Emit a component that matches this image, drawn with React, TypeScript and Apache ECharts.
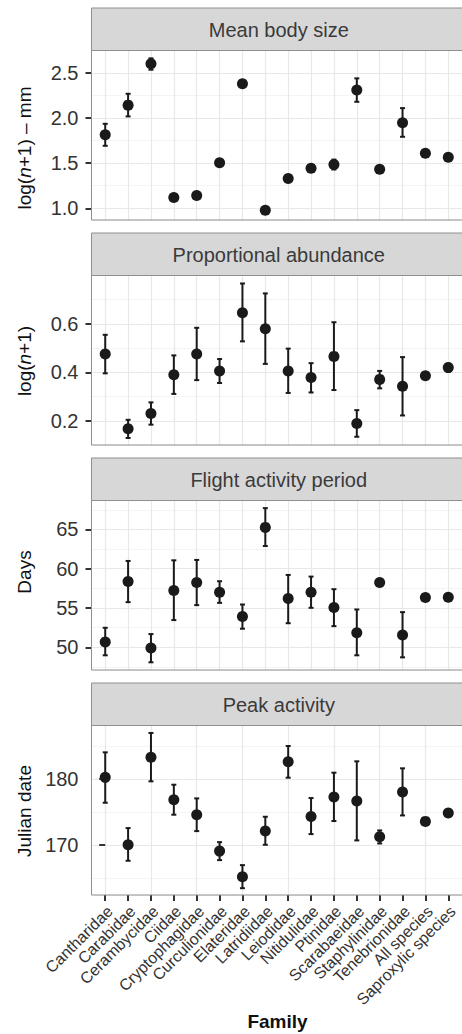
import React, { useEffect, useRef } from "react";
import * as echarts from "echarts";

// ---------- data ----------
const families = [
  "Cantharidae", "Carabidae", "Cerambycidae", "Ciidae", "Cryptophagidae",
  "Curculionidae", "Elateridae", "Latridiidae", "Leiodidae", "Nitidulidae",
  "Ptinidae", "Scarabaeidae", "Staphylinidae", "Tenebrionidae",
  "All species", "Saproxylic species",
];

const panelTitles = ["Mean body size", "Proportional abundance", "Flight activity period", "Peak activity"];
const yTitles = ["{a|log(}{i|n}{a|+1) – mm}", "{a|log(}{i|n}{a|+1)}", "{a|Days}", "{a|Julian date}"];

const bodyMean = [1.815, 2.144, 2.604, 1.119, 1.141, 1.504, 2.381, 0.978, 1.33, 1.444, 1.485, 2.311, 1.433, 1.948, 1.611, 1.567];
const bodyLo = [1.693, 2.019, 2.537, 1.1, 1.125, 1.485, 2.36, 0.965, 1.3, 1.425, 1.43, 2.181, 1.42, 1.793, null, null];
const bodyHi = [1.937, 2.27, 2.663, 1.135, 1.155, 1.52, 2.4, 0.99, 1.36, 1.46, 1.54, 2.441, 1.445, 2.111, null, null];

const abundMean = [0.476, 0.167, 0.23, 0.39, 0.476, 0.406, 0.646, 0.58, 0.406, 0.379, 0.466, 0.189, 0.371, 0.343, 0.386, 0.42];
const abundLo = [0.396, 0.129, 0.184, 0.311, 0.368, 0.356, 0.528, 0.435, 0.315, 0.317, 0.327, 0.134, 0.334, 0.222, null, 0.402];
const abundHi = [0.555, 0.204, 0.276, 0.47, 0.584, 0.455, 0.767, 0.726, 0.498, 0.438, 0.607, 0.244, 0.406, 0.463, null, 0.436];

const flightMean = [50.68, 58.37, 49.92, 57.23, 58.24, 57.02, 53.93, 65.26, 56.21, 57.02, 55.07, 51.86, 58.24, 51.56, 56.34, 56.38];
const flightLo = [48.99, 55.75, 48.1, 53.47, 55.37, 55.66, 52.37, 62.89, 53.07, 55.03, 52.7, 48.99, 57.78, 48.73, null, null];
const flightHi = [52.49, 60.99, 51.69, 61.07, 61.12, 58.41, 55.45, 67.71, 59.21, 59.0, 57.4, 54.82, 58.66, 54.48, null, null];

const peakMean = [180.25, 170.05, 183.28, 176.87, 174.6, 169.09, 165.2, 172.12, 182.63, 174.34, 177.27, 176.67, 171.26, 178.03, 173.59, 174.85];
const peakLo = [176.41, 167.63, 179.65, 174.6, 172.12, 167.73, 163.48, 170.05, 180.2, 171.67, 173.64, 170.71, 170.25, 174.49, null, null];
const peakHi = [184.04, 172.58, 186.97, 179.14, 177.07, 170.45, 166.97, 174.29, 185.0, 177.12, 180.96, 182.68, 172.22, 181.62, null, null];

const bodyTicks = [1.0, 1.5, 2.0, 2.5];
const abundTicks = [0.2, 0.4, 0.6];
const flightTicks = [50, 55, 60, 65];
const peakTicks = [170, 180];

const yLimits = [
  [0.87, 2.75],
  [0.1, 0.8],
  [47.12, 68.68],
  [162.45, 188.1],
];
const tickSteps = [0.5, 0.2, 5, 10];
const tickDecimals = [1, 1, 0, 0];

const panels = [
  { mean: bodyMean, lo: bodyLo, hi: bodyHi, ticks: bodyTicks },
  { mean: abundMean, lo: abundLo, hi: abundHi, ticks: abundTicks },
  { mean: flightMean, lo: flightLo, hi: flightHi, ticks: flightTicks },
  { mean: peakMean, lo: peakLo, hi: peakHi, ticks: peakTicks },
];

// ---------- layout / style ----------
const FONT = "'Liberation Sans', Arial, Helvetica, sans-serif";
const PLOT_LEFT = 91.5;
const PLOT_RIGHT = 466;
const STRIP_TOPS = [8, 233, 458, 683];
const STRIP_H = 42.5;
const PLOT_H = 169.5;
const TITLE_CY = [148, 361, 572, 811];
const INK = "#1a1a1a";
const MAJOR = "#e8e8e8";
const MINOR = "#f4f4f4";
const BORDER = "#8f8f8f";

export default function App() {
  const ref = useRef<HTMLDivElement>(null);

  useEffect(() => {
    if (!ref.current) return;
    const chart = echarts.init(ref.current, undefined, { renderer: "svg" });
    const xIdx = families.map((_, i) => i);
    const evenIdx = xIdx.filter((i) => i % 2 === 0);
    const oddIdx = xIdx.filter((i) => i % 2 === 1);

    const grid: any[] = [];
    const xAxis: any[] = [];
    const yAxis: any[] = [];
    const series: any[] = [];
    const graphic: any[] = [];

    const xLabelStyle = (values: number[]) => ({
      show: true,
      customValues: values,
      showMinLabel: true,
      showMaxLabel: true,
      hideOverlap: false,
      rotate: 45,
      margin: 9,
      verticalAlign: "top",
      lineHeight: 13,
      fontSize: 16,
      fontFamily: FONT,
      color: "#333",
      formatter: (v: number) => families[Math.round(v)] ?? "",
    });
    const xTickStyle = (show: boolean, values: number[]) => ({
      show,
      customValues: values,
      length: 6,
      lineStyle: { color: "#333", width: 2 },
    });

    panels.forEach((p, k) => {
      const top = STRIP_TOPS[k] + STRIP_H;
      grid.push({ left: PLOT_LEFT, top, width: PLOT_RIGHT - PLOT_LEFT, height: PLOT_H, containLabel: false });
      const isBottom = k === panels.length - 1;
      xAxis.push({
        type: "value",
        gridIndex: k,
        position: "bottom",
        min: -0.6,
        max: 15.6,
        minInterval: 1,
        maxInterval: 1,
        axisLine: { show: false },
        axisTick: xTickStyle(isBottom, isBottom ? evenIdx : xIdx),
        axisLabel: isBottom ? xLabelStyle(evenIdx) : { show: false },
        splitLine: { show: true, lineStyle: { color: MAJOR, width: 1.2 } },
      });
      const [ymin, ymax] = yLimits[k];
      // minor grid axis
      yAxis.push({
        type: "value",
        gridIndex: k,
        position: "left",
        min: ymin,
        max: ymax,
        minInterval: tickSteps[k] / 2,
        maxInterval: tickSteps[k] / 2,
        z: 0,
        axisLine: { show: false },
        axisTick: { show: false },
        axisLabel: { show: false },
        splitLine: { show: true, lineStyle: { color: MINOR, width: 1 } },
      });
      // major axis
      yAxis.push({
        type: "value",
        gridIndex: k,
        position: "left",
        offset: 0,
        min: ymin,
        max: ymax,
        minInterval: tickSteps[k],
        maxInterval: tickSteps[k],
        z: 1,
        axisLine: { show: false },
        axisTick: {
          show: true,
          customValues: p.ticks,
          length: 6,
          lineStyle: { color: "#333", width: 2 },
        },
        axisLabel: {
          show: true,
          customValues: p.ticks,
          showMinLabel: true,
          showMaxLabel: true,
          hideOverlap: false,
          margin: 13,
          fontSize: 20,
          fontFamily: FONT,
          color: "#333",
          formatter: (v: number) => v.toFixed(tickDecimals[k]),
        },
        splitLine: { show: true, lineStyle: { color: MAJOR, width: 1.2 } },
      });

      const errData = p.mean
        .map((_, i) => (p.lo[i] == null ? null : [i, p.lo[i], p.hi[i]]))
        .filter((d) => d != null);
      series.push({
        type: "custom",
        xAxisIndex: k,
        yAxisIndex: 2 * k + 1,
        z: 3,
        silent: true,
        encode: { x: 0, y: [1, 2] },
        data: errData,
        renderItem: (params: any, api: any) => {
          const x = api.value(0);
          const a = api.coord([x, api.value(2)]);
          const b = api.coord([x, api.value(1)]);
          const hw = 2.5;
          const style = { stroke: INK, lineWidth: 2, fill: "none" };
          return {
            type: "group",
            children: [
              { type: "line", shape: { x1: a[0], y1: a[1], x2: b[0], y2: b[1] }, style },
              { type: "line", shape: { x1: a[0] - hw, y1: a[1], x2: a[0] + hw, y2: a[1] }, style },
              { type: "line", shape: { x1: b[0] - hw, y1: b[1], x2: b[0] + hw, y2: b[1] }, style },
            ],
          };
        },
      });
      series.push({
        type: "scatter",
        xAxisIndex: k,
        yAxisIndex: 2 * k + 1,
        z: 4,
        silent: true,
        symbol: "circle",
        symbolSize: 11,
        itemStyle: { color: INK, opacity: 1 },
        data: p.mean.map((v, i) => [i, v]),
      });

      // strip
      graphic.push({
        type: "rect",
        z: 50,
        shape: { x: PLOT_LEFT, y: STRIP_TOPS[k], width: PLOT_RIGHT - PLOT_LEFT, height: STRIP_H },
        style: { fill: "#d7d7d8", stroke: BORDER, lineWidth: 1 },
      });
      graphic.push({
        type: "text",
        z: 51,
        x: (PLOT_LEFT + 462) / 2 + 2,
        y: STRIP_TOPS[k] + STRIP_H / 2 + 1,
        style: {
          text: panelTitles[k],
          fontSize: 20,
          fontFamily: FONT,
          fill: "#3a3a3a",
          align: "center",
          verticalAlign: "middle",
        },
      });
      // panel border
      graphic.push({
        type: "rect",
        z: 50,
        shape: { x: PLOT_LEFT, y: top, width: PLOT_RIGHT - PLOT_LEFT, height: PLOT_H },
        style: { fill: "none", stroke: BORDER, lineWidth: 1 },
      });
      // y title
      graphic.push({
        type: "text",
        z: 51,
        x: 24,
        y: TITLE_CY[k],
        rotation: Math.PI / 2,
        style: {
          text: yTitles[k],
          align: "center",
          verticalAlign: "middle",
          rich: {
            a: { fontSize: 19, fontFamily: FONT, fill: "#111" },
            i: { fontSize: 19, fontFamily: FONT, fill: "#111", fontStyle: "italic" },
          },
        },
      });
    });

    // second label axis for the odd categories of the bottom panel
    xAxis.push({
      type: "value",
      gridIndex: panels.length - 1,
      position: "bottom",
      offset: 0,
      min: -0.6,
      max: 15.6,
      minInterval: 1,
      maxInterval: 1,
      axisLine: { show: false },
      axisTick: xTickStyle(true, oddIdx),
      axisLabel: xLabelStyle(oddIdx),
      splitLine: { show: false },
    });

    graphic.push({
      type: "text",
      z: 51,
      x: 277.5,
      y: 1021,
      style: {
        text: "Family",
        fontSize: 19,
        fontWeight: "bold",
        fontFamily: FONT,
        fill: "#111",
        align: "center",
        verticalAlign: "middle",
      },
    });

    chart.setOption({
      animation: false,
      backgroundColor: "#ffffff",
      grid,
      xAxis,
      yAxis,
      series,
      graphic,
    });
    return () => chart.dispose();
  }, []);

  return (
    <div
      ref={ref}
      style={{ position: "absolute", left: 0, top: 0, width: 462, height: 1034, overflow: "hidden" }}
    />
  );
}
